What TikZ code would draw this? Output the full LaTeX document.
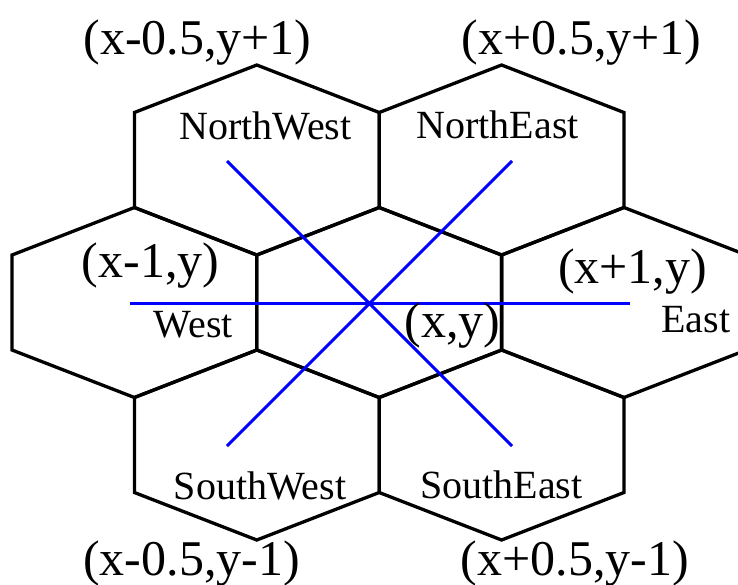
\documentclass[tikz,border=0pt]{standalone}
\usepackage{fontspec}
\setmainfont{Liberation Serif}
\begin{document}
\begin{tikzpicture}[x=1pt,y=-1pt,
  hexline/.style={draw=black,line width=3.3pt,line join=miter},
  dirline/.style={draw=blue,line width=3pt},
  coordlbl/.style={anchor=base,inner sep=0pt,font=\fontsize{50}{60}\selectfont},
  dirlbl/.style={anchor=base,inner sep=0pt,font=\fontsize{40}{48}\selectfont}]
\useasboundingbox (0,0) rectangle (738,584);
\clip (0,0) rectangle (738,584);
% hexagons (top vertex positions)
\foreach \cx/\ty in {256.8/65, 501.6/65, 134.4/207.5, 379.2/207.5, 624/207.5, 256.8/350, 501.6/350}
  \draw[hexline] (\cx,\ty) -- ++(122.4,47.5) -- ++(0,95) -- ++(-122.4,47.5) -- ++(-122.4,-47.5) -- ++(0,-95) -- cycle;
% direction lines
\coordinate (wEnd) at (130,303);
\coordinate (eEnd) at (630,303);
\coordinate (nwEnd) at (227,161);
\coordinate (seEnd) at (512,446);
\coordinate (neEnd) at (512,161);
\coordinate (swEnd) at (227,446);
\draw[dirline] (wEnd) -- (eEnd);
\draw[dirline] (nwEnd) -- (seEnd);
\draw[dirline] (neEnd) -- (swEnd);
% labels
\node[coordlbl] (cNW) at (197.5,54) {(x-0.5,y+1)};
\node[coordlbl] (cNE) at (581.5,54) {(x+0.5,y+1)};
\node[dirlbl] (dNW) at (265.5,139) {NorthWest};
\node[dirlbl] (dNE) at (497.7,138) {NorthEast};
\node[coordlbl] (cW) at (150.5,277) {(x-1,y)};
\node[coordlbl] (cE) at (632.5,283) {(x+1,y)};
\node[dirlbl] (dW) at (193.3,337) {West};
\node[dirlbl] (dE) at (695.7,332) {East};
\node[coordlbl] (cC) at (452.5,337) {(x,y)};
\node[dirlbl] (dSW) at (260,499) {SouthWest};
\node[dirlbl] (dSE) at (501.5,498) {SouthEast};
\node[coordlbl] (cSW) at (191.5,575) {(x-0.5,y-1)};
\node[coordlbl] (cSE) at (575,575) {(x+0.5,y-1)};
\end{tikzpicture}
\end{document}
